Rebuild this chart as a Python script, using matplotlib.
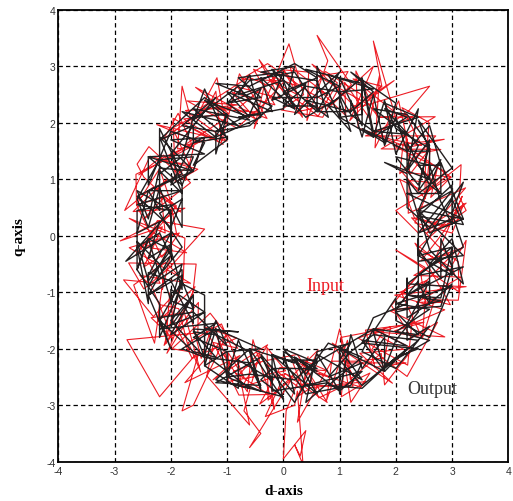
import matplotlib.pyplot as plt

plt.rcParams["axes.unicode_minus"] = False

# output trajectory (black), d and q components
out_d = [3.0, 2.4, 3.0, 2.4, 2.8, 2.4, 2.6, 2.2, 2.4, 2.0, 1.8, 1.6, 1.4, 1.4, 1.0, 1.0, 0.6, 0.6,
         -0.2, 0.2, -0.4, -0.2, -1.0, -0.6, -1.4, -0.8, -1.8, -1.2, -2.0, -1.4, -2.4, -1.6, -2.4, -1.8,
         -2.6, -2.0, -2.8, -2.0, -2.4, -2.0, -2.4, -1.8, -2.0, -1.6, -2.0, -1.4, -1.4, -1.2, -1.0, -0.8,
         -0.4, -0.6, 0.0, -0.2, 0.6, 0.2, 1.0, 0.6, 1.4, 1.0, 1.8, 1.4, 2.2, 1.6, 2.4, 2.0, 2.8, 2.2,
         3.2, 2.4, 3.0, 2.4,
         3.0, 3.2, 2.4, 2.2, 2.4, 3.0, 2.4, 2.6, 2.2, 1.4, 1.8, 2.0, 1.2, 1.6, 1.2, 0.4, 0.8, 0.6,
         -0.4, 0.2, 0.0, -0.8, -0.4, -0.8, -1.6, -1.4, -1.0, -1.6, -1.4, -2.0, -2.4, -2.4, -1.8,
         -1.8, -2.0, -2.6, -2.6, -2.4, -2.0, -1.8, -1.8, -2.4, -2.0, -2.2, -1.6, -1.0, -1.2, -1.4,
         -0.6, -1.2, -0.6, 0.2, -0.2, -0.2, 0.8, 0.4, 0.6, 1.2, 1.0, 1.4, 2.2, 1.8, 1.6, 2.0, 2.0, 2.6,
         3.0, 2.6, 2.4, 2.4, 2.4, 3.2,
         2.8, 2.4, 3.2, 2.2, 2.8, 2.4, 2.8, 2.6, 2.2, 2.0, 1.8, 1.6, 1.4, 1.2, 1.2, 0.6, 1.0, 0.2, 0.4,
         -0.2, 0.0, -0.8, -0.4, -1.0, -0.6, -1.6, -1.0, -1.6, -1.4, -1.6, -2.2, -1.8, -2.2, -2.2, -2.4,
         -2.6, -2.2, -2.4, -2.0, -2.4, -1.8, -2.0, -2.0, -1.4, -2.2, -1.2, -1.6, -1.0, -1.4, -0.8, -0.8,
         -0.2, -0.4, 0.2, 0.0, 0.6, 0.4, 1.0, 1.0, 1.2, 1.4, 1.8, 1.8, 2.6, 2.0, 2.6, 2.0, 3.0, 2.2,
         2.8, 2.6, 3.2,
         3.0, 3.2, 2.6, 2.2, 2.2, 1.8, 2.6, 2.6, 2.0, 1.8, 2.4, 1.6, 1.4, 0.8, 1.2, 1.0, 0.4, 0.0, 0.6,
         0.2, -0.6, -1.2, -0.2, -0.6, -1.2, -1.2, -1.0, -1.6, -1.8, -2.2, -2.2, -1.8, -2.6, -2.0, -1.8,
         -2.2, -1.8, -2.2, -2.4, -2.6, -2.2, -2.2, -1.8, -1.4, -1.4, -0.8, -1.6, -1.4, -0.6, -0.4, -1.2,
         -0.4, 0.2, 0.6, 0.0, 0.4, 0.8, 1.4, 0.8, 1.4, 2.0, 2.4, 1.4, 1.6, 2.2, 2.2, 2.2, 2.6, 2.6, 3.0,
         3.2, 2.6,
         2.4, 2.6, 3.2, 2.8, 2.8, 2.6, 2.2, 2.2, 2.4, 1.8, 2.2, 1.6, 1.0, 1.4, 1.4, 0.4, 1.0, 0.6,
         -0.2, 0.2, 0.0, -0.8, -0.6, -0.4, -1.2, -1.0, -1.4, -2.2, -1.6, -1.6, -2.0, -1.6, -2.2,
         -2.4, -2.6, -2.0, -2.0, -2.2, -2.6, -2.4, -2.4, -2.0, -1.6, -1.6, -2.0, -1.4, -1.8, -1.2,
         -0.4, -1.0, -1.0, 0.0, -0.4, -0.2, 0.6, 0.2, 0.4, 1.4, 1.0, 1.0, 1.6, 1.4, 2.0, 2.6, 2.2, 2.2,
         2.6, 2.2, 2.8, 3.0, 3.0, 2.4,
         2.4, 3.0, 3.0, 2.8, 2.6, 2.0, 2.4, 2.6, 2.2, 1.6, 2.2, 1.6, 1.2, 0.8, 1.6, 1.0, 0.4, 0.0, 0.6,
         0.2, -0.6, -1.0, -0.4, -0.6, -1.2, -1.8, -1.2, -1.6, -2.0, -1.8, -1.6, -2.2, -2.6, -2.4, -2.2,
         -2.0, -2.0, -2.4, -2.6, -2.2, -2.0, -1.6, -1.8, -2.2, -1.6, -1.2, -1.6, -1.2, -0.6, -0.4, -1.0,
         -0.6, 0.2, 0.6, 0.0, 0.4, 1.2, 1.4, 0.8, 1.2, 1.6, 2.4, 1.8, 2.0, 2.4, 2.4, 2.0, 2.8, 3.0, 2.8,
         2.8, 2.4]
out_q = [0.3, 0.05, 0.8, 0.45, 1.35, 0.8, 1.7, 1.15, 2.25, 1.45, 2.4, 1.75, 2.75, 1.95, 2.8, 2.1, 3.0, 2.2,
         2.95, 2.25, 2.8, 2.2, 2.55, 2.1, 2.4, 1.95, 2.2, 1.75, 1.7, 1.45, 1.4, 1.15, 0.8, 0.8,
         0.55, 0.45, -0.45, 0.05, -0.7, -0.35, -1.05, -0.7, -1.6, -1.05, -1.75, -1.35, -2.3, -1.65, -2.5, -1.85,
         -2.7, -2.0, -2.9, -2.1, -2.8, -2.15, -2.75, -2.1, -2.55, -2.0, -2.4, -1.85, -1.95, -1.65, -1.75, -1.35,
         -1.15, -1.05, -0.55, -0.7, -0.2, -0.35,
         0.65, 0.2, 0.35, 1.0, 0.75, 1.2, 2.05, 1.5, 1.5, 1.9, 1.65, 2.35, 2.9, 2.55, 2.2, 2.4, 2.1, 2.75,
         2.9, 3.0, 2.25, 2.1, 2.15, 2.65, 2.05, 2.6, 1.7, 1.25, 1.65, 1.85, 0.9, 1.4, 0.9,
         0.15, 0.55, 0.45, -0.6, -0.05, -0.25, -0.95, -0.6, -1.05, -2.0, -1.45, -1.35, -1.95, -1.5, -2.1,
         -2.7, -2.55, -2.0, -2.25, -2.1, -2.75, -2.6, -2.95, -2.05, -1.9, -2.2, -2.65, -2.0, -2.4, -1.7,
         -1.1, -1.5, -1.8, -0.85, -1.2, -0.85, -0.05, -0.45, -0.35,
         0.05, 0.45, 0.3, 0.75, 0.75, 1.25, 1.25, 1.95, 1.5, 2.1, 1.6, 2.5, 1.75, 2.4, 2.2, 2.2, 2.9, 2.15, 2.7,
         2.4, 2.9, 2.8, 2.45, 2.35, 2.05, 2.25, 1.75, 1.65, 1.75, 1.15, 1.75, 0.75, 1.15, 0.45, 0.8,
         0.05, 0.25, -0.4, -0.15, -0.9, -0.5, -1.2, -0.95, -1.35, -1.65, -1.55, -1.8, -2.05, -2.3, -2.7, -2.2,
         -2.55, -2.1, -2.8, -2.05, -2.4, -2.35, -2.0, -2.8, -1.75, -2.35, -1.8, -2.3, -1.85, -1.7, -1.3, -1.2,
         -0.9, -0.85, -0.4, -0.55, -0.2,
         0.4, 0.95, 0.15, 0.5, 1.1, 1.3, 1.0, 1.55, 1.9, 2.35, 2.1, 1.85, 2.8, 2.3, 1.85, 2.45, 2.1, 2.55, 2.8,
         3.05, 2.65, 2.7, 2.3, 1.95, 1.85, 1.45, 2.15, 2.1, 1.4, 1.1, 1.9, 1.1, 0.7, 0.15, 0.65,
         0.4, -0.2, -0.7, -0.05, -0.6, -1.2, -1.8, -0.85, -1.05, -1.65, -1.7, -1.65, -2.15, -2.25, -2.65, -2.6,
         -2.15, -2.95, -2.25, -2.0, -2.45, -1.9, -2.15, -2.65, -2.7, -2.15, -2.0, -1.9, -1.45, -1.2, -0.75, -1.45,
         -1.2, -0.5, -0.05, -0.85, -0.25,
         0.45, 0.05, 0.3, 1.3, 0.75, 0.9, 1.65, 1.15, 1.6, 2.25, 2.1, 1.75, 2.1, 2.15, 2.7, 2.95, 2.65, 2.45,
         2.45, 2.25, 2.75, 2.5, 2.85, 2.1, 1.75, 2.15, 2.45, 1.7, 1.95, 1.65, 0.9, 1.15, 1.2,
         0.3, 0.8, 0.45, -0.35, 0.05, -0.2, -1.2, -0.65, -0.8, -1.55, -1.05, -1.5, -2.15, -2.0, -1.65,
         -2.0, -2.05, -2.6, -2.85, -2.55, -2.35, -2.35, -2.15, -2.65, -2.4, -2.75, -2.0, -1.65, -2.05, -2.35,
         -1.6, -1.85, -1.55, -0.8, -1.05, -1.1, -0.2, -0.7, -0.35,
         0.35, 0.9, 0.2, 0.6, 1.25, 1.4, 0.9, 1.6, 2.15, 2.25, 1.8, 1.85, 2.15, 2.85, 2.6, 2.55, 2.65, 2.3, 2.3,
         2.9, 2.75, 2.35, 2.6, 2.15, 1.85, 1.95, 2.45, 1.95, 1.45, 0.9, 1.4, 1.35, 0.65, 0.15, 0.85,
         0.35, -0.25, -0.8, -0.1, -0.5, -1.15, -1.3, -0.8, -1.5, -2.05, -2.15, -1.7, -1.75, -2.05, -2.75, -2.5,
         -2.45, -2.55, -2.2, -2.2, -2.8, -2.65, -2.25, -2.5, -2.05, -1.75, -1.85, -2.35, -1.85, -1.35, -0.8, -1.3,
         -1.25, -0.55, -0.05, -0.75, -0.25]

# input trajectory (red), d and q components
in_d = [3.14, 2.55, 3.24, 2.22, 2.24, 2.69, 2.22, 2.80, 1.74, 2.70, 1.69, 1.99, 1.6, 1.75, 1.18, 1.6,
        0.86, 1.21, 0.6, 0.79, 0.42, 0.45, 0.0, 0.25, -0.53, -0.15, -0.91, -0.49, -1.56, -0.98, -1.77, -1.07,
        -1.6, -1.8, -1.88, -1.59, -1.74, -2.39, -2.6, -2.48, -1.82, -2.17, -2.10, -2.74, -1.72, -2.54,
        -2.19, -2.84, -2.31, -1.83, -2.12, -1.51, -1.52, -2.78, -2.2, -1.49, -1.8, -1.6, -1.01, -1.75,
        -0.77, -1.25, -0.28, -0.74, 0.03, -0.32, 0.2, 0.25, 0.35, 0.2, 0.3, 0.4, 0.0, 0.05, 0.44, 0.25,
        0.86, 0.77, 1.14, 1.19, 1.74, 1.80, 2.30, 1.73, 2.87, 1.90, 2.83, 2.37, 3.15, 2.32, 3.19, 2.71,
        3.18, 2.95, 2.33, 2.07, 2.54, 2.88, 1.95, 2.86, 2.23, 1.59, 2.21, 2.6, 1.15, 1.97, 1.45,
        0.61, 1.15, 0.70, -0.04, 0.36, 0.10, -0.52, -0.33, -0.62, -1.46, -1.18, -1.04, -1.77, -1.27, -1.96,
        -1.92, -1.52, -2.37, -2.82, -2.32, -1.90, -2.62, -2.25, -1.75, -1.78, -2.09, -2.66,
        -2.29, -2.19, -1.86, -1.67, -1.98, -1.30, -0.81, -1.24, -1.36, -0.6, -0.78, -0.41, -0.7, -0.4, -0.6,
        0.14, -0.42, -0.06, 0.79, 0.35, 0.63, 1.54, 1.20, 1.02, 1.80, 1.57, 2.20, 2.74, 2.28, 1.92,
        2.44, 2.51, 3.11, 3.25, 2.98, 2.38,
        2.94, 3.25, 2.40, 2.0, 2.98, 2.11, 2.52, 2.52, 2.59, 2.11, 2.46, 1.91, 1.33, 1.29, 1.69, 1.39,
        0.75, 0.25, 0.86, 0.47, -0.28, -0.74, 0.02, -0.36, -0.83, -1.71, -0.81, -1.30, -1.97, -1.61, -1.41, -1.80,
        -2.62, -2.61, -2.20, -2.02, -1.90, -2.44, -2.24, -1.4, -2.02, -2.48, -2.75, -1.55,
        -1.61, -2.09, -2.02, -1.96, -1.62, -0.83, -1.41, -1.19, -0.79, -0.26, -0.89, -0.36,
        0.25, 0.78, 0.03, 0.49, 1.24, 1.0, 0.86, 1.31, 1.80, 1.91, 1.33, 2.21, 2.30, 2.70, 2.47, 2.11,
        2.52, 2.0, 3.12, 3.11, 2.74,
        2.28, 2.85, 3.25, 3.13, 3.16, 2.54, 2.61, 2.25, 2.17, 2.23, 2.05, 1.63, 1.71, 1.54, 1.09, 1.11,
        0.59, 0.79, 0.12, 0.34, -0.43, -0.06, -0.82, -0.43, -1.15, -0.91, -1.74, -1.0, -2.25, -1.52,
        -2.23, -1.65, -2.23, -2.06, -2.67, -1.75, -2.90, -2.15, -2.48, -1.98, -2.15, -2.13, -2.24, -1.57,
        -2.07, -1.65, -1.46, -1.27, -0.95, -1.09, -0.64, -0.54, -0.16, -0.27, 0.37, 0.15, 0.81, 0.58,
        1.38, 0.87, 1.94, 1.36, 2.14, 1.62, 2.31, 2.09, 2.87, 1.98, 3.25, 2.47, 3.03, 2.45, 2.75,
        3.21, 3.0, 2.34, 2.74, 2.62, 2.98, 2.13, 2.07, 2.71, 1.46, 2.30, 2.02, 1.24, 1.75, 1.29,
        0.51, 0.96, 0.62, -0.23, 0.25, 0.0, -0.79, -0.29, -0.78, -1.10, -1.20, -1.33, -2.13, -1.87, -1.63,
        -2.57, -2.13, -1.65, -2.49, -2.12, -2.61, -2.16, -1.85, -2.74, -1.65, -2.55, -2.34,
        -1.97, -2.35, -1.76, -1.47, -1.69, -1.10, -0.69, -0.98, -0.98, 0.04, -0.29, -0.27, 0.62, 0.25, 0.49,
        1.48, 1.03, 1.09, 2.18, 1.63, 1.46, 2.50, 1.98, 2.47, 2.55, 2.07, 2.97, 2.34, 3.05, 2.96]
in_q = [0.30, 0.05, 0.85, 0.40, 0.98, 0.94, 1.43, 1.53, 1.54, 2.11, 2.10, 2.12, 3.45, 2.65, 2.04, 3.0,
        2.32, 2.68, 3.55, 3.10, 2.04, 2.9, 2.94, 2.65, 2.95, 2.32, 2.54, 2.07, 2.63, 2.17, 2.07, 1.62,
        1.9, 2.65, 1.54, 1.59, 0.98, 1.58, 1.27, 1.04, 0.42, 0.70, 0.05, 0.31, -0.30, -0.19,
        -0.84, -0.78, -1.43, -0.92, -1.94, -1.18, -1.72, -1.84, -2.85, -2.02, -3.1, -3.0, -1.75, -2.6,
        -2.12, -2.55, -1.93, -2.68, -2.44, -3.20, -3.0, -2.75, -4.05, -3.7, -3.9, -3.45, -3.95, -3.1, -2.14, -3.3,
        -2.22, -2.91, -1.85, -2.54, -2.08, -2.64, -2.00, -1.71, -1.79, -1.33, -1.16, -1.18, -0.73, -0.70, -0.21, -0.38,
        0.70, 0.17, 0.32, 1.00, 0.77, 1.14, 1.60, 1.71, 1.57, 1.79, 2.19, 2.65, 2.22, 2.75, 2.36,
        2.83, 2.91, 2.10, 2.23, 2.50, 3.40, 1.90, 2.69, 2.81, 2.27, 2.80, 2.07, 1.60, 1.71, 2.08,
        0.95, 1.18, 1.41, 0.45, 0.86, 0.53, -0.33, 0.16, -0.04, -0.79, -0.47, -0.87,
        -1.90, -1.22, -1.29, -2.05, -2.0, -1.37, -1.99, -1.89, -2.48, -3.35, -2.45, -2.05, -3.1, -3.5, -3.75,
        -2.55, -2.98, -2.33, -2.39, -2.20, -2.87, -2.43, -2.95, -1.80, -1.65, -2.02, -2.49, -1.53, -1.81, -1.23,
        -0.64, -1.13, -1.14, -0.08, -0.55, -0.23,
        0.29, 0.58, 0.05, 0.45, 1.04, 1.13, 0.66, 1.11, 2.01, 2.27, 1.60, 1.71, 1.91, 2.92, 2.10, 2.50,
        2.91, 2.20, 2.32, 2.54, 3.05, 2.78, 2.74, 2.32, 1.91, 2.39, 2.32, 2.26, 1.91, 1.13, 1.71, 1.49,
        1.09, 0.55, 1.19, 0.66, 0.05, -0.19, 0.27, 0.12, -0.56, -0.94, -0.48, -0.5,
        -1.03, -1.91, -1.01, -1.50, -2.17, -1.81, -1.61, -2.0, -2.82, -2.81, -2.40, -2.22,
        -2.10, -2.95, -2.44, -2.64, -2.68, -1.65, -2.22, -2.22, -2.16, -1.61, -1.81, -2.29, -1.39, -1.09, -1.82, -1.03,
        -0.56, -0.25, -0.99, -0.46, -0.17,
        0.32, 0.16, 0.45, 0.69, 1.26, 0.77, 1.55, 1.09, 1.81, 1.57, 2.39, 1.56, 2.84, 2.07, 2.72, 2.13,
        2.63, 2.49, 3.0, 2.10, 3.12, 2.43, 2.64, 2.19, 2.24, 2.27, 2.22, 1.68, 1.97, 1.67,
        1.34, 1.26, 0.83, 1.01, 0.43, 0.49, -0.09, 0.16, -0.55, -0.24, -0.95, -0.70, -1.53, -0.90,
        -2.08, -1.41, -2.17, -1.61, -2.26, -2.06, -2.76, -1.84, -3.07, -2.29, -2.75, -2.20, -2.49, -2.43,
        -2.68, -1.90, -2.61, -2.08, -2.01, -1.73, -1.53, -1.64, -1.31, -1.05, -0.90, -0.87, -0.31, -0.44, -0.06,
        0.57, 0.05, 0.23, 1.21, 0.68, 1.04, 1.63, 1.10, 1.77, 1.77, 2.10, 2.16, 2.78, 2.65, 2.27,
        3.04, 2.71, 2.12, 2.76, 2.50, 2.94, 2.27, 2.08, 2.87, 1.66, 2.56, 2.30, 1.71, 2.17, 1.63,
        1.08, 1.43, 0.94, 0.29, 0.68, 0.55, -0.38, 0.05, -0.21, -0.84, -0.70, -0.89,
        -1.81, -1.45, -1.36, -2.41, -1.89, -1.56, -2.53, -2.07, -2.58, -2.39, -1.98, -2.91, -2.02, -2.85, -2.69,
        -2.58, -2.85, -2.25, -2.25, -2.33, -1.67, -1.53, -1.68, -1.81, -0.79, -1.0, -1.22, -0.13, -0.70, -0.43]

ticks = [-4, -3, -2, -1, 0, 1, 2, 3, 4]

fig = plt.figure(figsize=(5.13, 5.02), dpi=100)
ax = fig.add_axes([0.1137, 0.0783, 0.8772, 0.8998])

ax.plot(in_d, in_q, color="#ed1c24", lw=0.8)
ax.plot(out_d, out_q, color="#231f20", lw=1.0)

ax.set_xlim(-4, 4)
ax.set_ylim(-4, 4)
ax.set_xticks(ticks)
ax.set_yticks(ticks)
ax.grid(True, color="black", linestyle=(0, (3.5, 2.5)), lw=0.9)
ax.set_axisbelow(True)
ax.tick_params(length=0, labelsize=7.5, labelcolor="#333333")
ax.tick_params(axis="x", pad=3)
ax.tick_params(axis="y", pad=2)
for lab in ax.get_xticklabels() + ax.get_yticklabels():
    lab.set_family("Liberation Sans")
for s in ax.spines.values():
    s.set_linewidth(1.3)

ax.set_xlabel("d-axis", family="Liberation Serif", weight="bold", fontsize=11, labelpad=6)
ax.set_ylabel("q-axis", family="Liberation Serif", weight="bold", fontsize=11, labelpad=15)

ax.text(0.74, -0.88, "Input", color="#ed1c24", family="Liberation Serif", fontsize=13,
        ha="center", va="center")
ax.text(2.64, -2.71, "Output", color="#333333", family="Liberation Serif", fontsize=13,
        ha="center", va="center")

fig.savefig("out.png")
